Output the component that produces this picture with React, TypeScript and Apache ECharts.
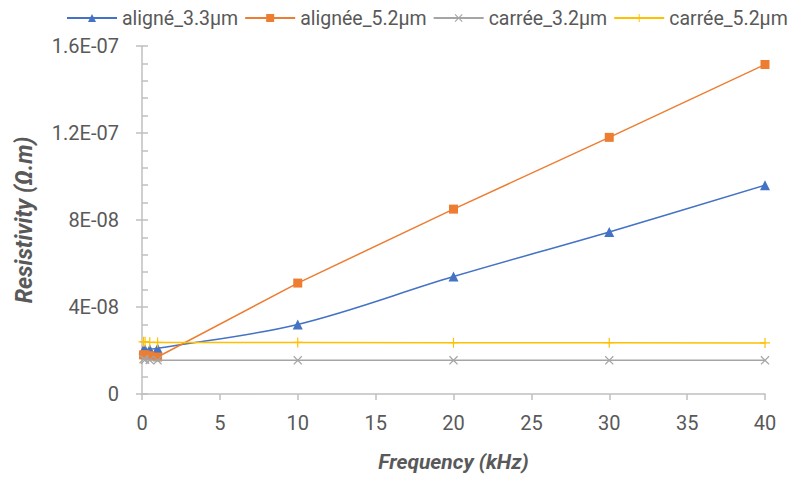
import React, { useEffect, useRef } from "react";
import * as echarts from "echarts";

const frequencies = [0.1, 0.2, 0.5, 1, 10, 20, 30, 40];
const aligne33 = [2.05e-8, 2.05e-8, 2.06e-8, 2.1e-8, 3.2e-8, 5.4e-8, 7.45e-8, 9.6e-8];
const alignee52 = [1.8e-8, 1.8e-8, 1.76e-8, 1.7e-8, 5.1e-8, 8.5e-8, 1.18e-7, 1.515e-7];
const carree32 = [1.6e-8, 1.58e-8, 1.56e-8, 1.55e-8, 1.55e-8, 1.55e-8, 1.55e-8, 1.55e-8];
const carree52 = [2.4e-8, 2.4e-8, 2.38e-8, 2.37e-8, 2.37e-8, 2.36e-8, 2.36e-8, 2.35e-8];
const seriesNames = ["aligné_3.3µm", "alignée_5.2µm", "carrée_3.2µm", "carrée_5.2µm"];
const seriesColors = ["#4472C4", "#ED7D31", "#A5A5A5", "#FFC000"];

const FONT = "Roboto";
const TEXT = "#595959";
const AXIS = "#BFBFBF";

const crossSymbol = "path://M1,0L5,4L9,0L10,1L6,5L10,9L9,10L5,6L1,10L0,9L4,5L0,1Z";
const plusSymbol = "path://M4.4,0H5.6V4.4H10V5.6H5.6V10H4.4V5.6H0V4.4H4.4Z";

function fmtY(v: number): string {
  if (Math.abs(v) < 1e-20) return "0";
  const s = Number(v.toPrecision(2)).toExponential();
  const m = s.match(/^([\d.]+)e([+-])(\d+)$/);
  if (!m) return s;
  return m[1] + "E" + m[2] + m[3].padStart(2, "0");
}

export default function App() {
  const ref = useRef<HTMLDivElement>(null);
  useEffect(() => {
    if (!ref.current) return;
    const chart = echarts.init(ref.current, undefined, { renderer: "svg" });
    const datasets = [aligne33, alignee52, carree32, carree52];
    const symbols = ["triangle", "rect", crossSymbol, plusSymbol];
    const sizes = [10, 9, 9, 10];
    chart.setOption({
      animation: false,
      backgroundColor: "#ffffff",
      legend: {
        top: 3,
        left: 61,
        width: 746,
        padding: [5, 0, 5, 5],
        itemWidth: 50,
        itemHeight: 10,
        itemGap: 6,
        textStyle: { fontFamily: FONT, fontSize: 19.5, color: TEXT },
        data: seriesNames,
      },
      grid: { left: 142, right: 42, top: 46, bottom: 84 },
      xAxis: {
        type: "value",
        min: 0,
        max: 40,
        interval: 5,
        name: "Frequency (kHz)",
        nameLocation: "middle",
        nameGap: 57,
        nameTextStyle: { fontFamily: FONT, fontSize: 21, fontWeight: "bold", fontStyle: "italic", color: TEXT },
        axisLine: { show: true, lineStyle: { color: AXIS, width: 1.5 } },
        axisTick: { show: true, length: 6, lineStyle: { color: AXIS, width: 1.5 } },
        splitLine: { show: false },
        axisLabel: { fontFamily: FONT, fontSize: 20, color: TEXT, margin: 19 },
      },
      yAxis: [
        {
          type: "value",
          min: 0,
          max: 1.6e-7,
          interval: 4e-8,
          name: "Resistivity (Ω.m)",
          nameLocation: "middle",
          nameGap: 106,
          nameTextStyle: { fontFamily: FONT, fontSize: 23, fontWeight: "bold", fontStyle: "italic", color: TEXT },
          axisLine: { show: true, onZero: false, lineStyle: { color: AXIS, width: 1.5 } },
          axisTick: { show: true, inside: true, length: 6, lineStyle: { color: AXIS, width: 1.5 } },
          minorTick: { show: true, splitNumber: 5, length: 6, lineStyle: { color: AXIS, width: 1.5 } },
          splitLine: { show: false },
          axisLabel: { fontFamily: FONT, fontSize: 20, color: TEXT, margin: 23, formatter: fmtY },
        },
        {
          type: "value",
          position: "left",
          min: 0,
          max: 1.6e-7,
          interval: 4e-8,
          axisLine: { show: false },
          axisTick: { show: true, inside: false, length: 6, lineStyle: { color: AXIS, width: 1.5 } },
          splitLine: { show: false },
          axisLabel: { show: false },
        },
      ],
      series: datasets.map((d, i) => ({
        name: seriesNames[i],
        type: "line",
        yAxisIndex: 0,
        data: frequencies.map((f, j) => [f, d[j]]),
        smooth: i === 0 ? 0.35 : false,
        symbol: symbols[i],
        symbolSize: sizes[i],
        showSymbol: true,
        color: seriesColors[i],
        lineStyle: { color: seriesColors[i], width: 1.5 },
        itemStyle: { color: seriesColors[i] },
        z: 2 + i,
      })),
    });
    return () => chart.dispose();
  }, []);
  return (
    <div
      ref={ref}
      style={{ position: "fixed", left: 0, top: 0, width: 807, height: 478 }}
    />
  );
}
